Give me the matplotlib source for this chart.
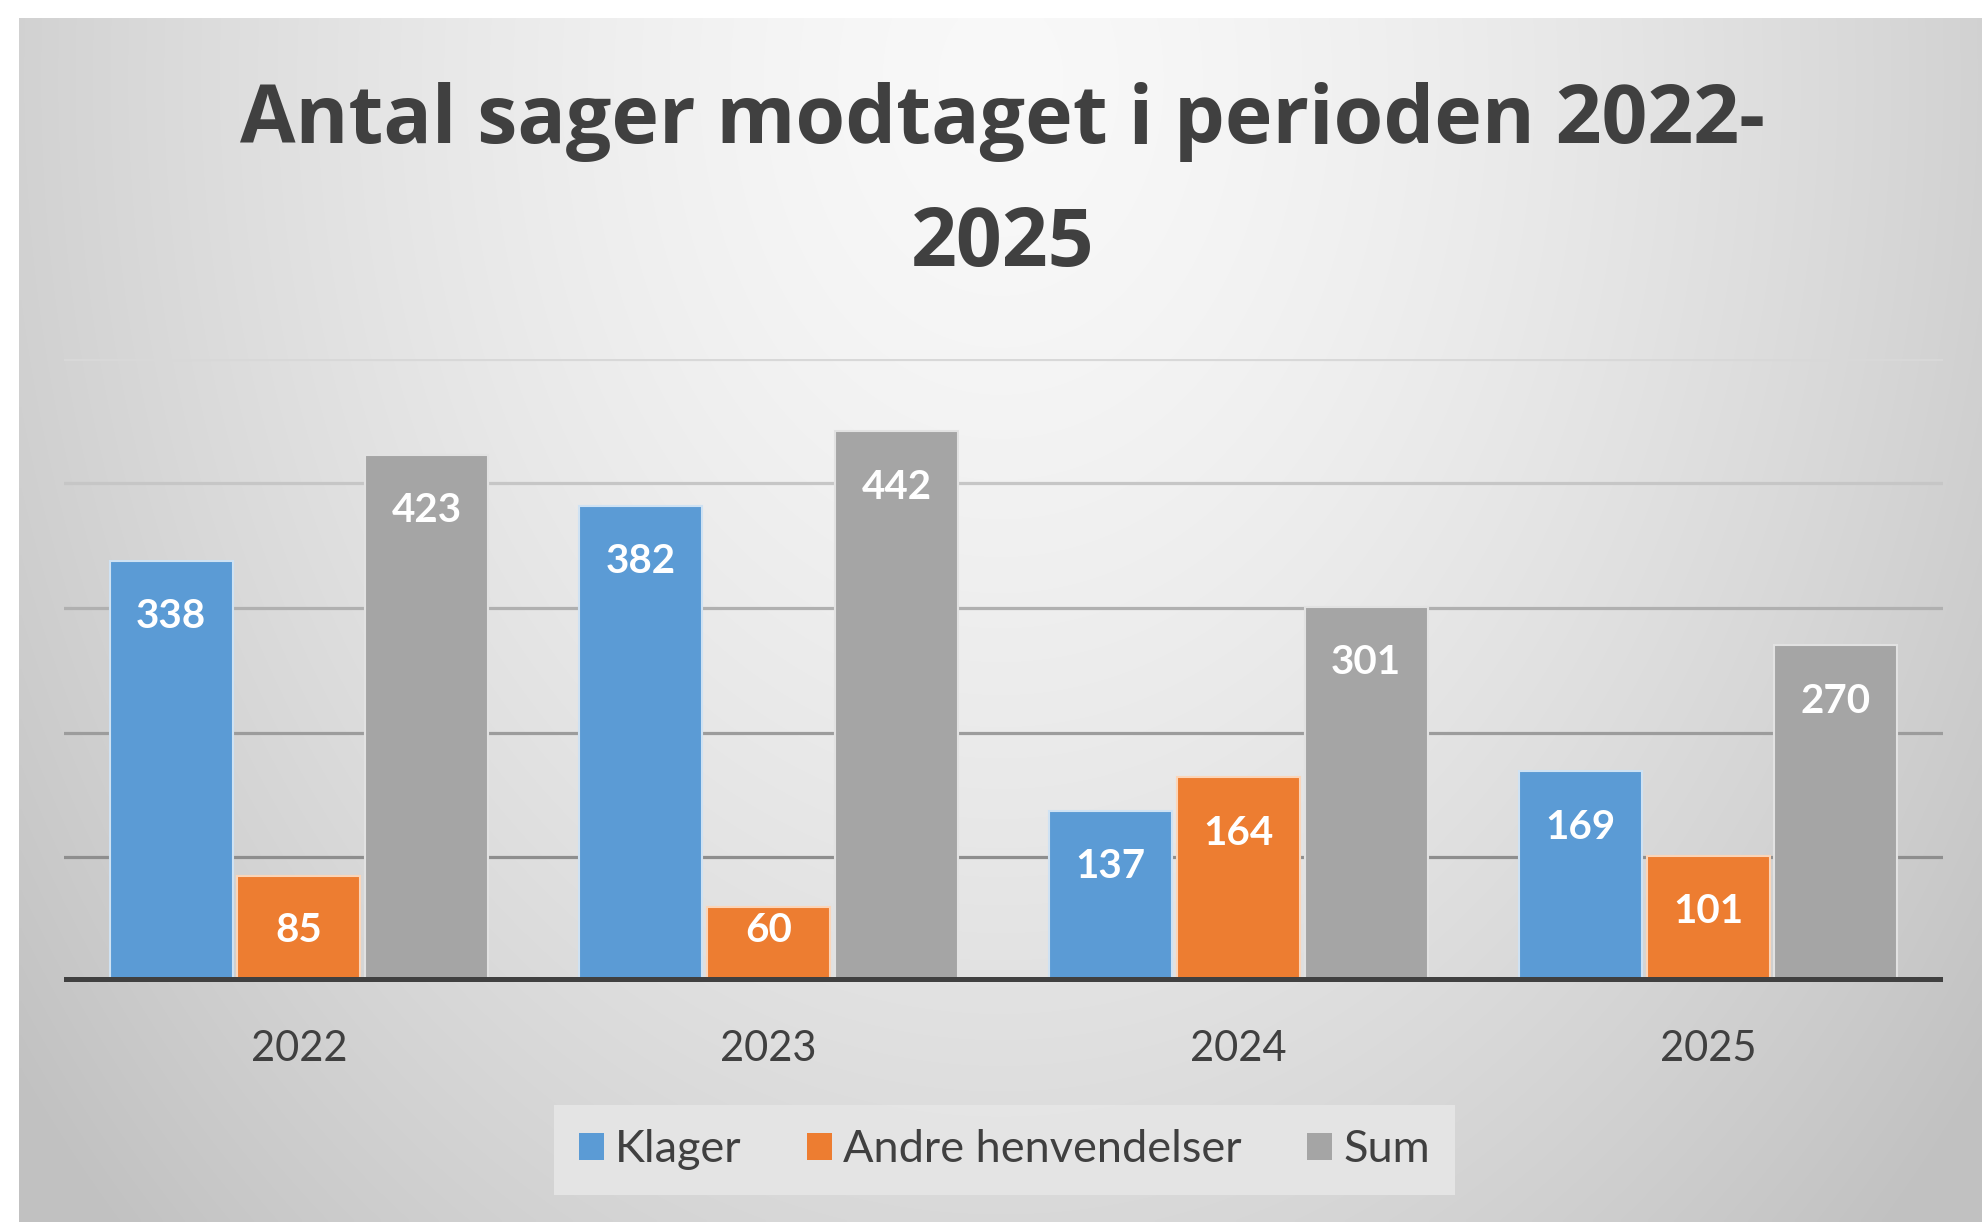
import matplotlib.pyplot as plt
import numpy as np
from matplotlib.patches import Patch

years = ["2022", "2023", "2024", "2025"]
klager = [338, 382, 137, 169]
andre = [85, 60, 164, 101]
total = [423, 442, 301, 270]
series_names = ["Klager", "Andre henvendelser", "Sum"]
colors = ["#5B9BD5", "#ED7D31", "#A5A5A5"]
edges = ["#cfe2f3", "#fbd5b8", "#e2e2e2"]
grid_vals = [100, 200, 300, 400, 500]
grid_cols = ["#8e8e8e", "#9c9c9c", "#b0b0b0", "#c6c6c6", "#d8d8d8"]

W, H = 1983, 1222
fig = plt.figure(figsize=(W / 100, H / 100), dpi=100)
fig.patch.set_facecolor("white")

# soft radial background like the Office chart style
bg = fig.add_axes([19 / W, 0, 1 - 19 / W, 1 - 18 / H])
bg.set_axis_off()
xx, yy = np.meshgrid(np.linspace(0, 1, 400), np.linspace(0, 1, 300))
r = np.sqrt(((xx - 0.5) / 0.6) ** 2 + ((yy - 0.05) / 1.3) ** 2)
shade = np.clip(0.975 - 0.2 * r ** 1.5, 0.76, 1)
bg.imshow(np.dstack([shade] * 3), aspect="auto", extent=[0, 1, 1, 0],
          interpolation="bilinear")
bg.set_zorder(-5)

ax = fig.add_axes([64 / W, 240.5 / H, (1943 - 64) / W, (981.5 - 359) / H])
ax.set_facecolor("none")
ax.set_xlim(-0.5, 3.5)
ax.set_ylim(0, 500)
for s in ax.spines.values():
    s.set_visible(False)

for v, c in zip(grid_vals, grid_cols):
    ax.axhline(v, color=c, lw=2.3, zorder=1)

x = np.arange(len(years))
step = 0.272
width = 0.262
for i, (vals, c, e) in enumerate(zip([klager, andre, total], colors, edges)):
    pos = x + (i - 1) * step
    bars = ax.bar(pos, vals, width, color=c, edgecolor=e, linewidth=1.5, zorder=2)
    for b, v in zip(bars, vals):
        # inside-end label, kept off the baseline for short bars
        ax.text(b.get_x() + b.get_width() / 2, max(v - 45, 41), str(v),
                ha="center", va="center", color="white",
                fontsize=29, fontweight="bold", family="Lato", zorder=4)

ax.axhline(0, color="#404040", lw=7.2, zorder=3)

ax.set_yticks([])
ax.set_xticks(x)
ax.set_xticklabels(years, fontsize=30, family="Lato", color="#404040")
ax.tick_params(axis="x", length=0, pad=35)

fig.text(1003 / W, 1 - 143 / H, "Antal sager modtaget i perioden 2022-",
         ha="center", va="baseline", fontsize=58, fontweight="bold",
         family="Open Sans", color="#404040")
fig.text(1003 / W, 1 - 266 / H, "2025",
         ha="center", va="baseline", fontsize=58, fontweight="bold",
         family="Open Sans", color="#404040")

handles = [Patch(facecolor=c, edgecolor="none") for c in colors]
leg = fig.legend(handles, series_names, loc="center",
                 bbox_to_anchor=(1004.5 / W, 1 - 1150 / H), ncol=3,
                 frameon=True, fancybox=False, facecolor="#e6e6e6",
                 edgecolor="none", framealpha=0.9,
                 prop={"family": "Lato", "size": 32.5},
                 labelcolor="#404040", handlelength=0.55, handleheight=0.55,
                 handletextpad=0.25, columnspacing=1.45, borderpad=0.55)

plt.savefig("out.png", dpi=100)
